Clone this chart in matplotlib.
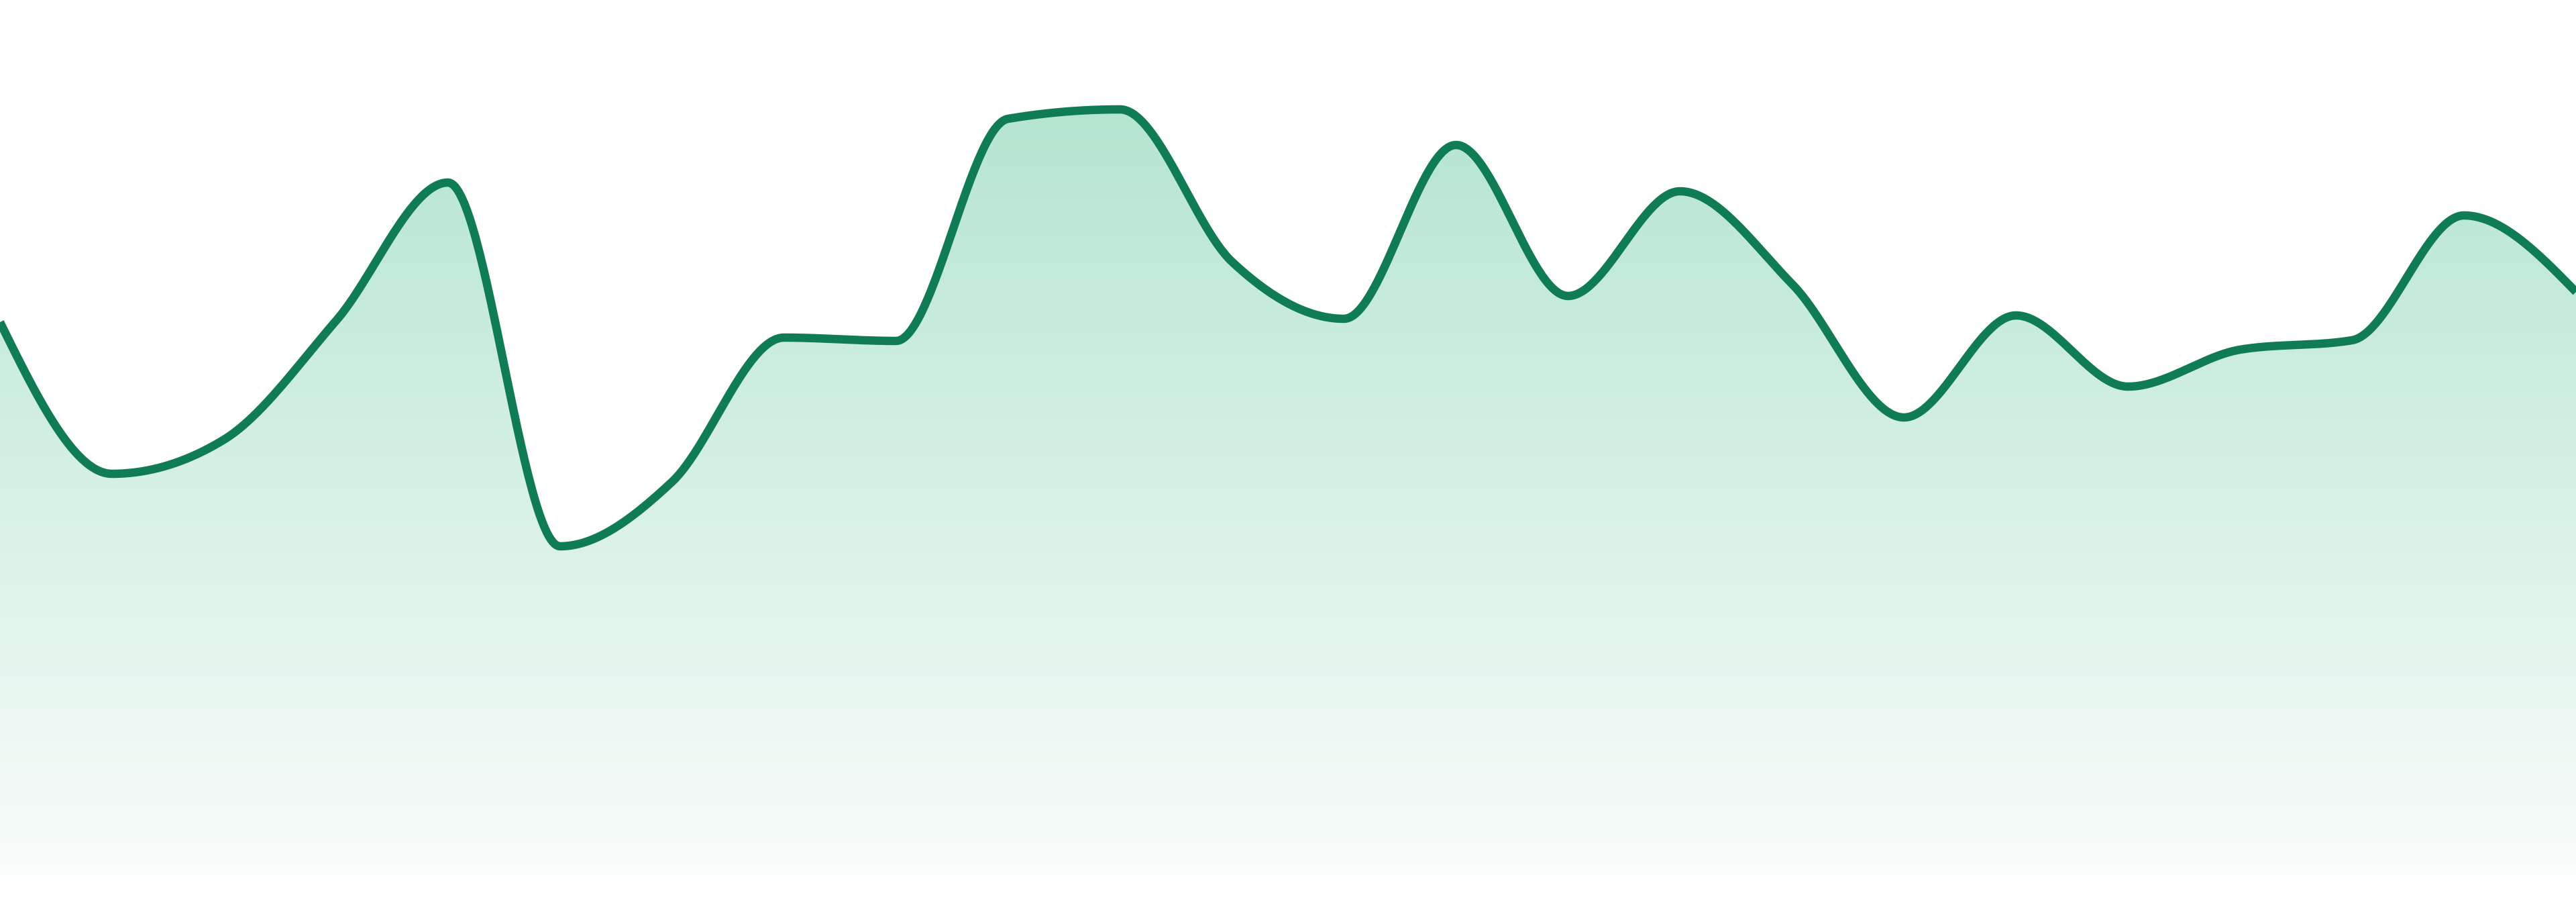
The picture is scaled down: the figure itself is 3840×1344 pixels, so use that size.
import numpy as np
import matplotlib
matplotlib.use("Agg")
import matplotlib.pyplot as plt
from matplotlib.patches import PathPatch
from matplotlib.path import Path

# ---- data ----
x_index = list(range(24))
values = [864, 638, 689, 866, 1072, 530, 626, 841, 836, 1167, 1181, 954,
          869, 1128, 903, 1059, 921, 722, 874, 768, 823, 837, 1023, 909]
baseline = 39
y_top_limit = 1344

line_color = "#107c54"
fill_rgb = (0.19, 0.72, 0.49)


def monotone_x(xs, ys, n=60):
    xs = np.asarray(xs, float)
    ys = np.asarray(ys, float)
    m = len(xs)
    h = np.diff(xs)
    s = np.diff(ys) / h
    t = np.zeros(m)
    for i in range(1, m - 1):
        s0, s1 = s[i - 1], s[i]
        h0, h1 = h[i - 1], h[i]
        p = (s0 * h1 + s1 * h0) / (h0 + h1)
        t[i] = (np.sign(s0) + np.sign(s1)) * min(abs(s0), abs(s1), 0.5 * abs(p))
    t[0] = (3 * s[0] - t[1]) / 2
    t[-1] = (3 * s[-1] - t[-2]) / 2
    out_x, out_y = [], []
    for i in range(m - 1):
        u = np.linspace(0, 1, n, endpoint=(i == m - 2))
        x0, x1 = xs[i], xs[i + 1]
        y0, y1 = ys[i], ys[i + 1]
        dx = h[i] / 3
        p1 = (x0 + dx, y0 + dx * t[i])
        p2 = (x1 - dx, y1 - dx * t[i + 1])
        b0 = (1 - u) ** 3
        b1 = 3 * (1 - u) ** 2 * u
        b2 = 3 * (1 - u) * u ** 2
        b3 = u ** 3
        out_x.append(b0 * x0 + b1 * p1[0] + b2 * p2[0] + b3 * x1)
        out_y.append(b0 * y0 + b1 * p1[1] + b2 * p2[1] + b3 * y1)
    return np.concatenate(out_x), np.concatenate(out_y)


fig = plt.figure(figsize=(38.4, 13.44), dpi=100)
ax = fig.add_axes([0, 0, 1, 1])
ax.axis("off")

cx, cy = monotone_x(x_index, values)

verts = np.concatenate([np.column_stack([cx, cy]),
                        [[cx[-1], baseline], [cx[0], baseline], [cx[0], cy[0]]]])
codes = [Path.MOVETO] + [Path.LINETO] * (len(verts) - 2) + [Path.CLOSEPOLY]
area_path = Path(verts, codes)
patch = PathPatch(area_path, facecolor="none", edgecolor="none")
ax.add_patch(patch)

top = cy.max()
ng = 256
alphas = np.linspace(0.36, 0.03, ng)
grad = np.zeros((ng, 1, 4))
grad[:, 0, 0] = fill_rgb[0]
grad[:, 0, 1] = fill_rgb[1]
grad[:, 0, 2] = fill_rgb[2]
grad[:, 0, 3] = alphas
im = ax.imshow(grad, extent=[x_index[0], x_index[-1], baseline, top],
               origin="upper", aspect="auto", interpolation="bilinear", zorder=1)
im.set_clip_path(patch)

ax.plot(cx, cy, color=line_color, linewidth=9.0, solid_joinstyle="round",
        solid_capstyle="butt", zorder=3)

ax.set_xlim(x_index[0], x_index[-1])
ax.set_ylim(0, y_top_limit)

fig.savefig("out.png", dpi=100, facecolor="white")
